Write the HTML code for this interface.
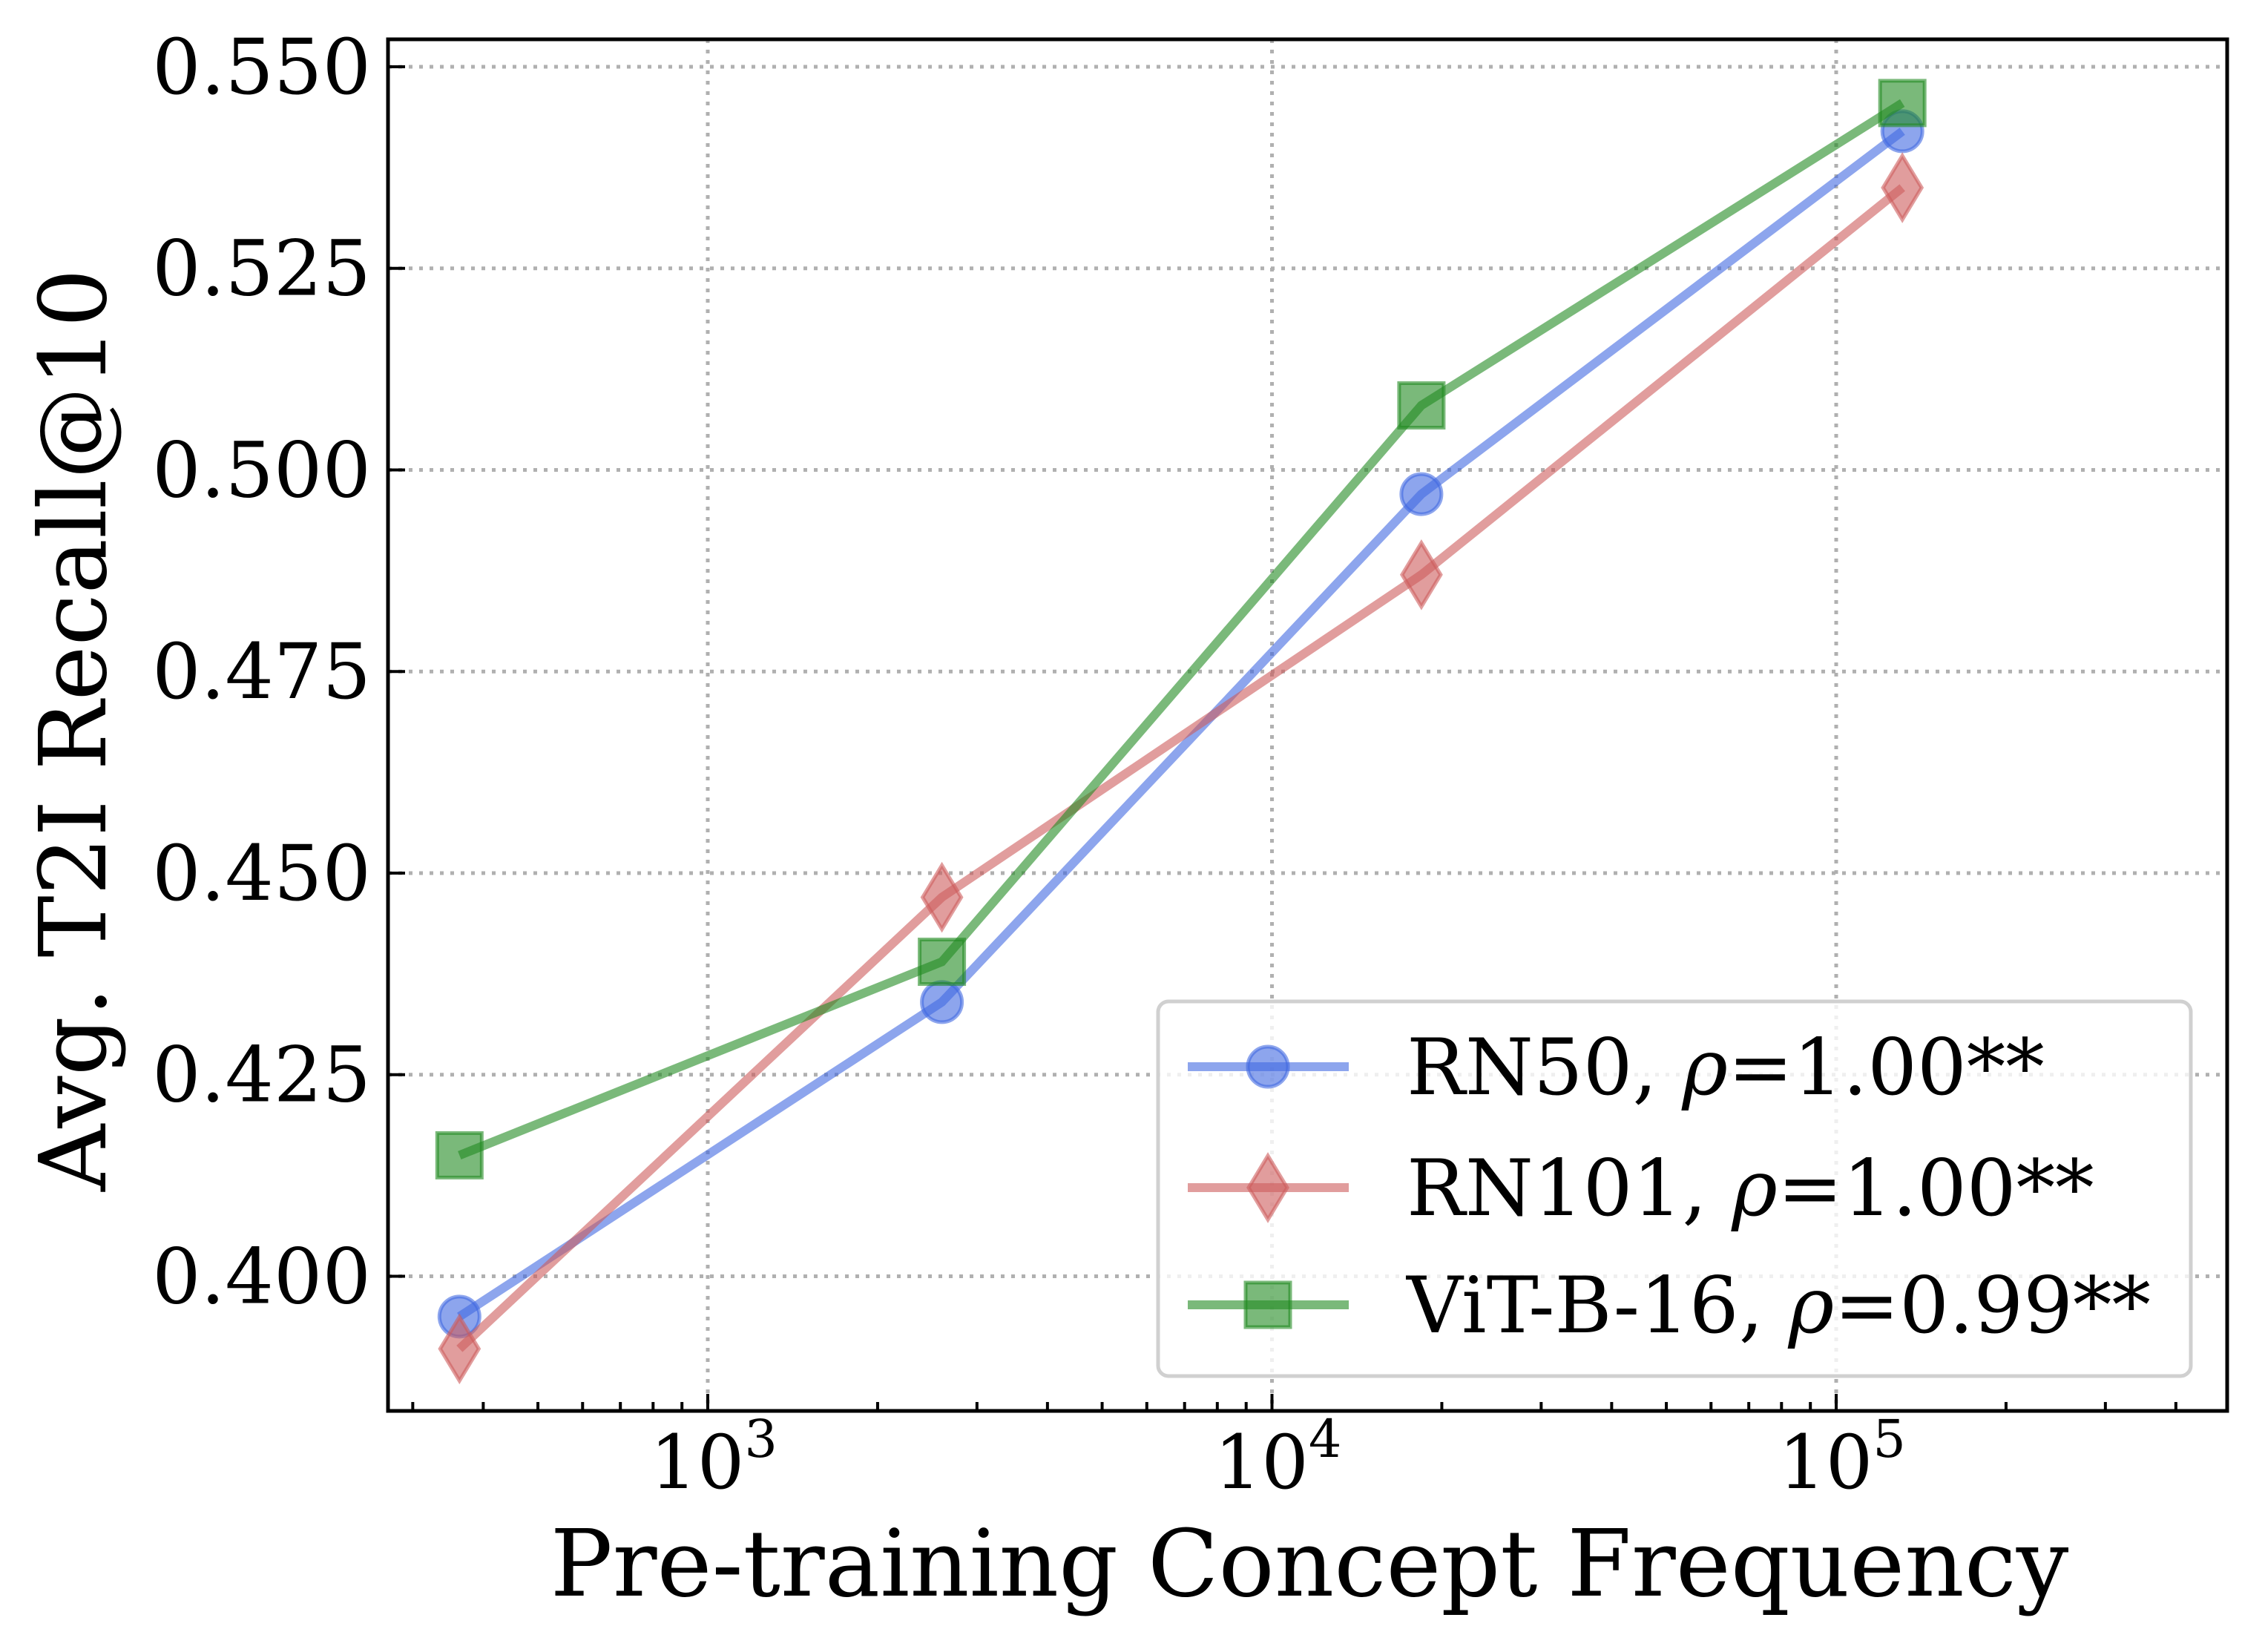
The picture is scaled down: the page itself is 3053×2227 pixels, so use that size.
<!DOCTYPE html>
<html><head><meta charset="utf-8"><style>
html,body{margin:0;padding:0;background:#fff}
svg{display:block}
text{font-family:"DejaVu Serif","Liberation Serif",serif;fill:#000}
</style></head><body>
<svg id="chart" width="3053" height="2227" viewBox="0 0 3053 2227" xmlns="http://www.w3.org/2000/svg">
<g id="grid"></g>
<g id="series"></g>
<g id="axes"></g>
<text x="1765" y="2151" font-size="125" text-anchor="middle">Pre-training Concept Frequency</text>
<text transform="translate(142,984) rotate(-90)" font-size="125" text-anchor="middle">Avg. T2I Recall@10</text>
<g id="legend"></g>
</svg>
<script>
const xValues = [363, 2600, 18400, 131000];
const seriesNames = ["RN50", "RN101", "ViT-B-16"];
const rn50 = [0.395, 0.434, 0.497, 0.542];
const rn101 = [0.391, 0.447, 0.487, 0.535];
const vit = [0.415, 0.439, 0.508, 0.5455];
const rhoLabels = ["1.00**", "1.00**", "0.99**"];
const yTicks = [0.400, 0.425, 0.450, 0.475, 0.500, 0.525, 0.550];
const yTickLabels = ["0.400", "0.425", "0.450", "0.475", "0.500", "0.525", "0.550"];
const xTickExps = [3, 4, 5];

const NS = "http://www.w3.org/2000/svg";
const L = 523, R = 3002, T = 53, B = 1902;
const X3 = 954, DEC = 760.5;
const yMin = 0.3833, yMax = 0.5534;
const X = v => X3 + (Math.log10(v) - 3) * DEC;
const Y = v => B - (v - yMin) / (yMax - yMin) * (B - T);
function mk(tag, attrs, parent) {
  const e = document.createElementNS(NS, tag);
  for (const k in attrs) e.setAttribute(k, attrs[k]);
  parent.appendChild(e);
  return e;
}
const grid = document.getElementById('grid');
const axes = document.getElementById('axes');
const series = document.getElementById('series');
const legend = document.getElementById('legend');

yTicks.forEach((t, i) => {
  const y = Y(t);
  const g = mk('line', {x1: L, x2: R, y1: y, y2: y, stroke: '#b0b0b0', 'stroke-width': 5, 'stroke-dasharray': '5 9'}, grid);
  
  
  const tk = mk('line', {x1: L, x2: L + 23, y1: y, y2: y, stroke: '#000', 'stroke-width': 4}, axes);
  
  
  const tx = mk('text', {x: 500, y: y + 36, 'font-size': 103, 'text-anchor': 'end'}, axes);
  tx.textContent = yTickLabels[i];
  
  
});
for (let e = 2; e <= 5; e++) {
  for (let m = 1; m <= 9; m++) {
    const v = m * Math.pow(10, e);
    const x = X(v);
    if (x < L + 2 || x > R - 2) continue;
    const major = m === 1;
    const tk = mk('line', {x1: x, x2: x, y1: B, y2: B - (major ? 23 : 12), stroke: '#000', 'stroke-width': 4}, axes);
    
    
  }
}
xTickExps.forEach(e => {
  const x = X(Math.pow(10, e));
  const g = mk('line', {x1: x, x2: x, y1: T, y2: B, stroke: '#b0b0b0', 'stroke-width': 5, 'stroke-dasharray': '5 9'}, grid);
  
  
  const tx = mk('text', {x: x + 8, y: 2006, 'font-size': 100, 'text-anchor': 'middle'}, axes);
  
  
  tx.textContent = '10';
  const sup = mk('tspan', {dy: -42, 'font-size': 70}, tx);
  sup.textContent = String(e);
});
const frame = mk('rect', {x: L, y: T, width: R - L, height: B - T, fill: 'none', stroke: '#000', 'stroke-width': 5}, axes);



const styles = [
  {c: '#4169e1', m: 'circle'},
  {c: '#cd5c5c', m: 'diamond'},
  {c: '#228b22', m: 'square'}
];
function marker(type, x, y, c, parent) {
  let e;
  if (type === 'circle') e = mk('ellipse', {cx: x, cy: y, rx: 27, ry: 27}, parent);
  else if (type === 'square') e = mk('rect', {x: x - 30, y: y - 30, width: 60, height: 60}, parent);
  else e = mk('polygon', {points: `${x},${y-43} ${x+26},${y} ${x},${y+43} ${x-26},${y}`}, parent);
  e.setAttribute('fill', c); e.setAttribute('fill-opacity', 0.6);
  e.setAttribute('stroke', c); e.setAttribute('stroke-opacity', 0.6); e.setAttribute('stroke-width', 5);
  return e;
}
[rn50, rn101, vit].forEach((vals, si) => {
  const st = styles[si];
  const g = mk('g', {}, series);
  
  
  const pts = vals.map((v, i) => X(xValues[i]) + ',' + Y(v)).join(' ');
  const pl = mk('polyline', {points: pts, fill: 'none', stroke: st.c, 'stroke-opacity': 0.6, 'stroke-width': 12, 'stroke-linejoin': 'miter'}, g);
  
  
  vals.forEach((v, i) => {
    const mkr = marker(st.m, X(xValues[i]), Y(v), st.c, g);
    
    
  });
});

const box = mk('rect', {x: 1561, y: 1350, width: 1392, height: 505, rx: 14, fill: '#fff', 'fill-opacity': 0.8, stroke: '#d0d0d0', 'stroke-width': 5}, legend);


const rowsY = [1438, 1601, 1759];
seriesNames.forEach((n, i) => {
  const st = styles[i];
  const g = mk('g', {}, legend);
  
  
  mk('line', {x1: 1601, x2: 1818, y1: rowsY[i], y2: rowsY[i], stroke: st.c, 'stroke-opacity': 0.6, 'stroke-width': 12}, g);
  marker(st.m, 1709, rowsY[i], st.c, g);
  const t = mk('text', {x: 1896, y: rowsY[i] + 37, 'font-size': 105}, g);
  t.textContent = n + ', ';
  const rho = mk('tspan', {'font-style': 'italic'}, t);
  rho.textContent = 'ρ';
  const rest = mk('tspan', {}, t);
  rest.textContent = '=' + rhoLabels[i];
});
</script>
</body></html>
